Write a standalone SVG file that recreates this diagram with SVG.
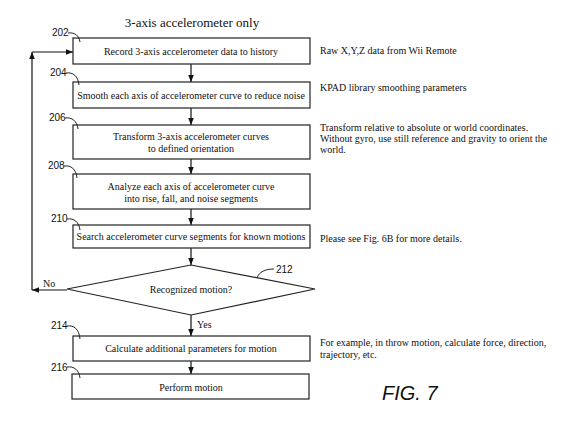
<svg xmlns="http://www.w3.org/2000/svg" width="575" height="443" viewBox="0 0 575 443">
<defs>
<marker id="ah" viewBox="0 0 10 10" refX="10" refY="5" markerWidth="7" markerHeight="7" orient="auto" markerUnits="userSpaceOnUse">
<path d="M0,1 L10,5 L0,9 Z" fill="#111"/>
</marker>
<style>
.box{fill:#fff;stroke:#222;stroke-width:1.2}
.t{font-family:'Liberation Serif','Times New Roman','DejaVu Serif',serif;font-size:10px;fill:#111}
.c{text-anchor:middle}
.ttl{font-size:13px}
.n{font-family:'Liberation Sans',Arial,sans-serif;font-size:10px;fill:#111}
.ld{fill:none;stroke:#222;stroke-width:1}
.cn{fill:none;stroke:#111;stroke-width:1.2}
</style>
</defs>
<rect width="575" height="443" fill="#fff"/>
<text x="192" y="27" class="t c ttl">3-axis accelerometer only</text>

<g id="connectors">
<line x1="191" y1="64" x2="191" y2="82" class="cn" marker-end="url(#ah)"/>
<line x1="191" y1="108" x2="191" y2="125" class="cn" marker-end="url(#ah)"/>
<line x1="191" y1="159" x2="191" y2="174" class="cn" marker-end="url(#ah)"/>
<line x1="191" y1="209" x2="191" y2="225" class="cn" marker-end="url(#ah)"/>
<line x1="191" y1="248" x2="191" y2="265" class="cn" marker-end="url(#ah)"/>
<line x1="191" y1="315" x2="191" y2="336" class="cn" marker-end="url(#ah)"/>
<line x1="191" y1="361" x2="191" y2="374" class="cn" marker-end="url(#ah)"/>
<line x1="67" y1="290" x2="32" y2="290" class="cn" marker-end="url(#ah)"/>
<line x1="32" y1="290" x2="32" y2="52" class="cn" marker-end="url(#ah)"/>
<line x1="32" y1="52" x2="73" y2="52" class="cn" marker-end="url(#ah)"/>
<text x="43" y="287" class="t">No</text>
<text x="197" y="328" class="t">Yes</text>
</g>

<g id="n202">
<rect x="73" y="38" width="237" height="26" class="box"/>
<text x="191" y="55" class="t c">Record 3-axis accelerometer data to history</text>
<text x="52" y="36" class="n">202</text>
<path d="M68,33 C75,32 79,36 80,42" class="ld"/>
<text x="320" y="54" class="t">Raw X,Y,Z data from Wii Remote</text>
</g>

<g id="n204">
<rect x="73" y="82" width="237" height="26" class="box"/>
<text x="191" y="99" class="t c">Smooth each axis of accelerometer curve to reduce noise</text>
<text x="50" y="76" class="n">204</text>
<path d="M66,73 C73,72 78,76 79,85" class="ld"/>
<text x="320" y="91" class="t">KPAD library smoothing parameters</text>
</g>

<g id="n206">
<rect x="73" y="125" width="237" height="34" class="box"/>
<text x="191" y="140" class="t c">Transform 3-axis accelerometer curves</text>
<text x="191" y="152" class="t c">to defined orientation</text>
<text x="49" y="121" class="n">206</text>
<path d="M65,118 C72,117 77,121 78,129" class="ld"/>
<text x="320" y="131" class="t">Transform relative to absolute or world coordinates.</text>
<text x="320" y="142" class="t">Without gyro, use still reference and gravity to orient the</text>
<text x="320" y="153" class="t">world.</text>
</g>

<g id="n208">
<rect x="73" y="174" width="237" height="35" class="box"/>
<text x="191" y="190" class="t c">Analyze each axis of accelerometer curve</text>
<text x="191" y="202" class="t c">into rise, fall, and noise segments</text>
<text x="48" y="169" class="n">208</text>
<path d="M64,166 C71,165 76,169 77,178" class="ld"/>
</g>

<g id="n210">
<rect x="73" y="225" width="237" height="23" class="box"/>
<text x="191" y="240" class="t c">Search accelerometer curve segments for known motions</text>
<text x="51" y="222" class="n">210</text>
<path d="M67,219 C74,218 79,222 80,230" class="ld"/>
<text x="320" y="242" class="t">Please see Fig. 6B for more details.</text>
</g>

<g id="n212">
<polygon points="191,265 315,289 191,315 67,289" class="box"/>
<text x="191" y="293" class="t c">Recognized motion?</text>
<text x="276" y="273" class="n">212</text>
<path d="M274,269 C265,269 259,272 257,278" class="ld"/>
</g>

<g id="n214">
<rect x="73" y="336" width="237" height="25" class="box"/>
<text x="191" y="352" class="t c">Calculate additional parameters for motion</text>
<text x="51" y="329" class="n">214</text>
<path d="M67,326 C74,325 79,329 80,339" class="ld"/>
<text x="320" y="346" class="t">For example, in throw motion, calculate force, direction,</text>
<text x="320" y="358" class="t">trajectory, etc.</text>
</g>

<g id="n216">
<rect x="72" y="374" width="237" height="25" class="box"/>
<text x="191" y="391" class="t c">Perform motion</text>
<text x="51" y="371" class="n">216</text>
<path d="M67,367 C74,366 79,370 80,378" class="ld"/>
</g>

<text x="382" y="400" font-family="'Liberation Sans',Arial,sans-serif" font-style="italic" font-size="20" fill="#111">FIG. 7</text>
</svg>
